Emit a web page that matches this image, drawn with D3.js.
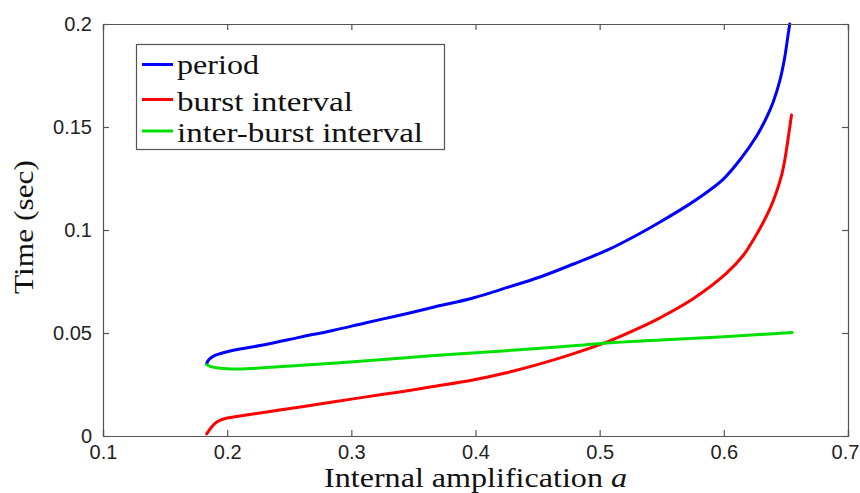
<!DOCTYPE html>
<html>
<head>
<meta charset="utf-8">
<script src="https://cdn.jsdelivr.net/npm/d3@7"></script>
<style>
  body { margin: 0; background: #fff; }
  svg { display: block; }
</style>
</head>
<body>
<svg id="chart" width="860" height="493"></svg>
<script>
// values: [a, time in sec]
const period = [
  [0.1835, 0.0352], [0.1855, 0.0372], [0.189, 0.0388], [0.194, 0.0399], [0.205, 0.0416],
  [0.232, 0.0445], [0.259, 0.0480], [0.285, 0.0512], [0.312, 0.0550], [0.339, 0.0586],
  [0.366, 0.0625], [0.398, 0.0670], [0.425, 0.0720], [0.452, 0.0772], [0.479, 0.0835],
  [0.506, 0.0902], [0.532, 0.0982], [0.549, 0.1040], [0.573, 0.1128], [0.586, 0.1182],
  [0.5994, 0.1246], [0.6129, 0.1340], [0.6263, 0.1455], [0.6343, 0.1545], [0.6397, 0.1620],
  [0.6451, 0.1725], [0.6491, 0.1840], [0.6518, 0.1950], [0.6531, 0.2000]
];
const burstInterval = [
  [0.1835, 0.0010], [0.187, 0.0040], [0.19, 0.0060], [0.194, 0.0076], [0.2, 0.0087],
  [0.205, 0.0092], [0.232, 0.0117], [0.259, 0.0141], [0.285, 0.0165], [0.312, 0.0190],
  [0.339, 0.0214], [0.366, 0.0240], [0.398, 0.0272], [0.425, 0.0307], [0.452, 0.0350],
  [0.479, 0.0400], [0.506, 0.0457], [0.532, 0.0525], [0.549, 0.0575], [0.575, 0.0665],
  [0.602, 0.0789], [0.616, 0.0880], [0.626, 0.0975], [0.632, 0.1040], [0.6376, 0.1110],
  [0.6424, 0.1185], [0.6465, 0.1265], [0.6491, 0.1340], [0.6518, 0.1445], [0.6545, 0.1558]
];
const interBurst = [
  [0.1835, 0.0346], [0.187, 0.0337], [0.193, 0.0330], [0.2, 0.0326], [0.21, 0.0325],
  [0.232, 0.0332], [0.285, 0.0353], [0.339, 0.0378], [0.379, 0.0396], [0.425, 0.0414],
  [0.479, 0.0438], [0.506, 0.0452], [0.549, 0.0466], [0.6, 0.0482], [0.655, 0.0502]
];
const xTicks = [0.1, 0.2, 0.3, 0.4, 0.5, 0.6, 0.7];
const yTicks = [0, 0.05, 0.1, 0.15, 0.2];
const yTickLabels = ["0", "0.05", "0.1", "0.15", "0.2"];

const series = [
  { name: "period", data: period, color: "#0000ff" },
  { name: "burst interval", data: burstInterval, color: "#ff0000" },
  { name: "inter-burst interval", data: interBurst, color: "#00e000" }
];

const margin = { left: 103, right: 12, top: 24, bottom: 57 };
const width = 860, height = 493;

const svg = d3.select("#chart");

const x = d3.scaleLinear().domain([0.1, 0.7]).range([margin.left, width - margin.right]);
const y = d3.scaleLinear().domain([0, 0.2]).range([height - margin.bottom, margin.top]);

const axisColor = "#555";
const tickFont = "'Liberation Sans', Arial, sans-serif";
const serif = "'Liberation Serif', 'Times New Roman', serif";

// curves
const line = d3.line()
  .x(d => x(d[0]))
  .y(d => y(d[1]))
  .curve(d3.curveCatmullRom.alpha(0.5));

svg.append("g").selectAll("path")
  .data(series)
  .enter().append("path")
  .attr("d", d => line(d.data))
  .attr("fill", "none")
  .attr("stroke", d => d.color)
  .attr("stroke-width", 3)
  .attr("stroke-linecap", "round")
  .attr("stroke-linejoin", "round");

// axes box with inward ticks on all four sides
const tickLen = 6;
const axes = svg.append("g");

const xAxis = axes.append("g")
  .attr("transform", `translate(0,${y(0)})`)
  .call(d3.axisBottom(x).tickValues(xTicks).tickSize(-tickLen).tickPadding(9)
    .tickFormat(d3.format(".1f")));
axes.append("g")
  .attr("transform", `translate(0,${y(0.2)})`)
  .call(d3.axisTop(x).tickValues(xTicks).tickSize(-tickLen).tickFormat(""));
axes.append("g")
  .attr("transform", `translate(${x(0.1)},0)`)
  .call(d3.axisLeft(y).tickValues(yTicks).tickSize(-tickLen).tickPadding(11)
    .tickFormat((d, i) => yTickLabels[i]));
axes.append("g")
  .attr("transform", `translate(${x(0.7)},0)`)
  .call(d3.axisRight(y).tickValues(yTicks).tickSize(-tickLen).tickFormat(""));

axes.selectAll(".domain").attr("stroke", axisColor).attr("stroke-width", 1.2);
axes.selectAll(".tick line").attr("stroke", axisColor).attr("stroke-width", 1.2);
axes.selectAll(".tick text")
  .attr("font-family", tickFont)
  .attr("font-size", 20)
  .attr("fill", "#222");

// last x label sits right at the page edge, nudge it in a bit
xAxis.selectAll(".tick:last-of-type text").attr("dx", -3);

// axis labels
const xLabel = svg.append("text")
  .attr("x", (x(0.1) + x(0.7)) / 2)
  .attr("y", 487)
  .attr("text-anchor", "middle")
  .attr("font-family", serif)
  .attr("font-size", 27)
  .attr("fill", "#111")
  .attr("textLength", 303)
  .attr("lengthAdjust", "spacingAndGlyphs");
xLabel.append("tspan").text("Internal amplification ");
xLabel.append("tspan").attr("font-style", "italic").text("a");

svg.append("text")
  .attr("transform", `translate(33,${(y(0) + y(0.2)) / 2 - 3}) rotate(-90)`)
  .attr("text-anchor", "middle")
  .attr("font-family", serif)
  .attr("font-size", 27)
  .attr("fill", "#111")
  .attr("textLength", 134)
  .attr("lengthAdjust", "spacingAndGlyphs")
  .text("Time (sec)");

// legend
const legendRows = [64.5, 99.5, 131];
const legendWidths = [82, 176, 246];
const legend = svg.append("g");

legend.append("rect")
  .attr("x", 136.5)
  .attr("y", 44.5)
  .attr("width", 308)
  .attr("height", 105)
  .attr("fill", "#fff")
  .attr("stroke", axisColor)
  .attr("stroke-width", 1.2);

const rows = legend.selectAll("g.row")
  .data(series)
  .enter().append("g")
  .attr("class", "row")
  .attr("transform", (d, i) => `translate(0,${legendRows[i]})`);

rows.append("line")
  .attr("x1", 142).attr("x2", 173)
  .attr("stroke", d => d.color)
  .attr("stroke-width", 3);

rows.append("text")
  .attr("x", 177)
  .attr("y", (d, i) => i === 0 ? 9 : 11)
  .attr("font-family", serif)
  .attr("font-size", 28)
  .attr("fill", "#111")
  .attr("textLength", (d, i) => legendWidths[i])
  .attr("lengthAdjust", "spacingAndGlyphs")
  .text(d => d.name);
</script>
</body>
</html>
